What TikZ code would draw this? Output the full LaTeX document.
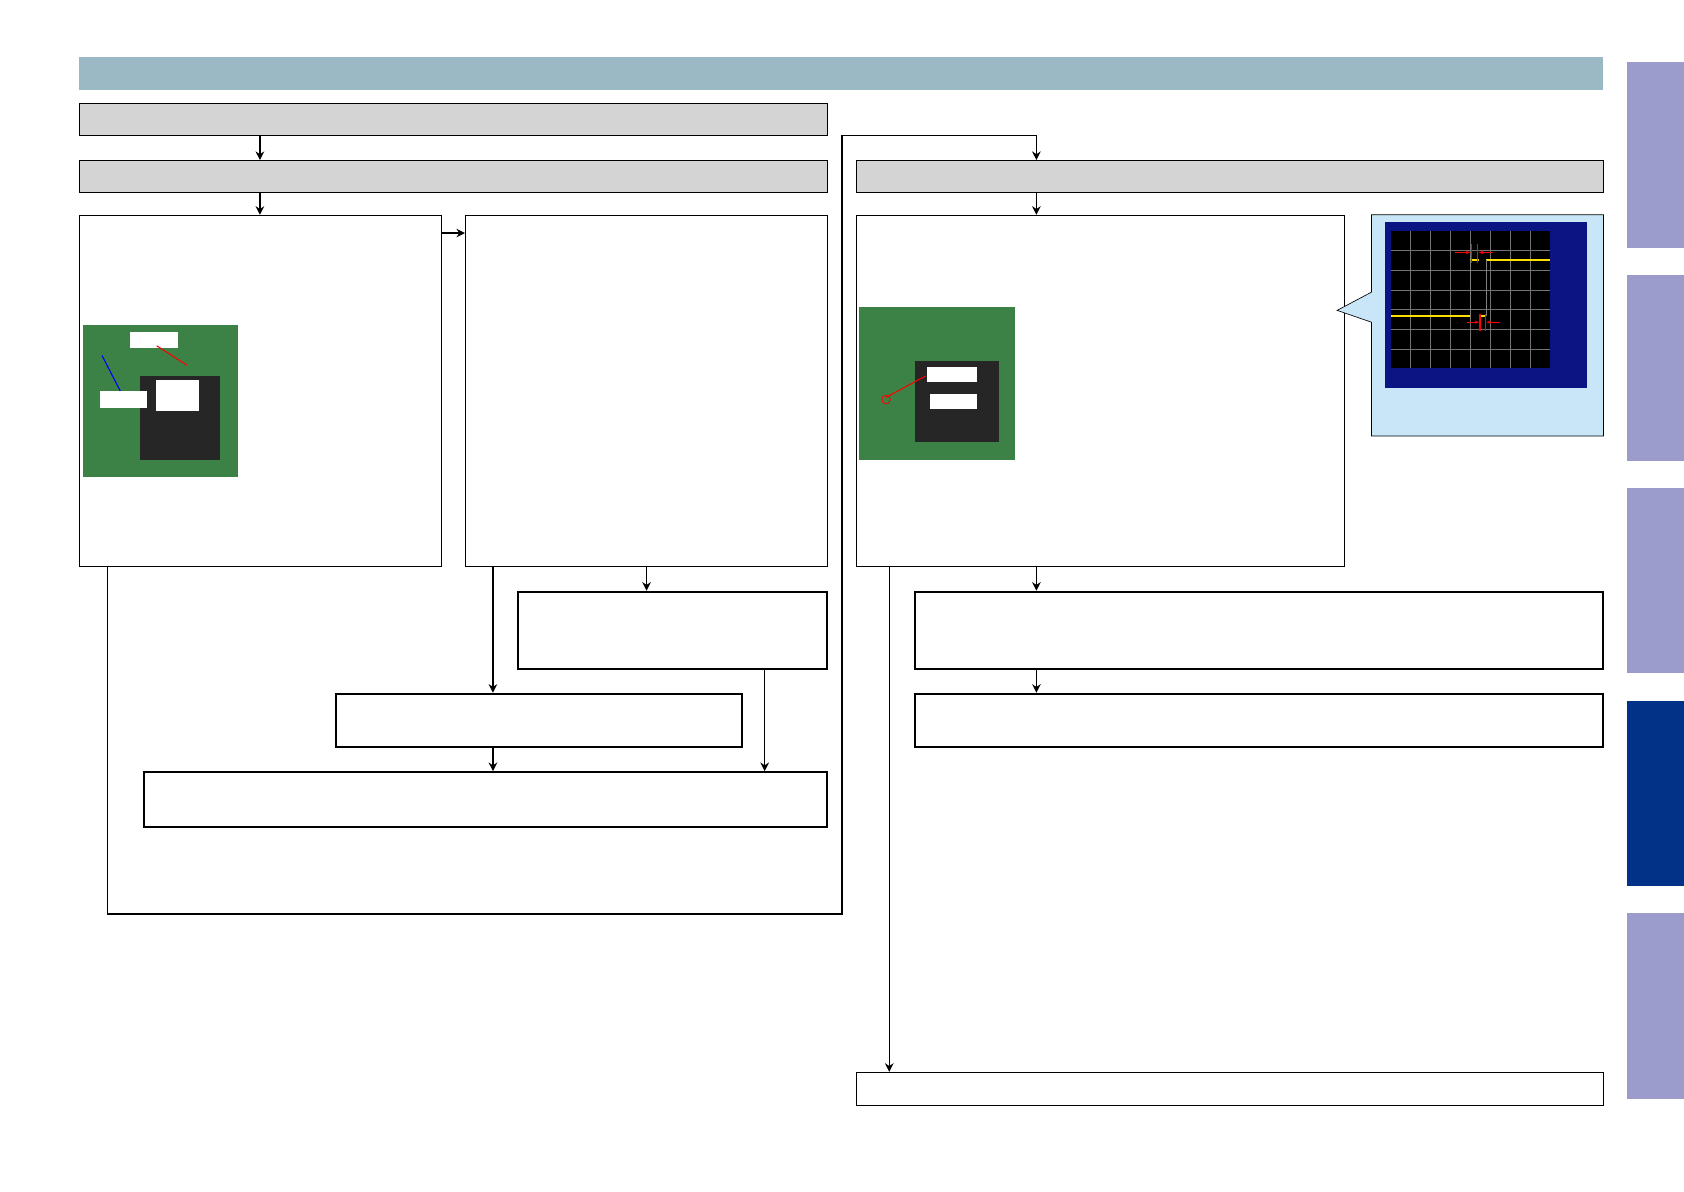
\documentclass[tikz,border=0pt]{standalone}
\usepackage{tikz}
\usetikzlibrary{positioning,calc,arrows.meta}
\definecolor{barblue}{RGB}{155,185,196}
\definecolor{tabpurple}{RGB}{155,155,204}
\definecolor{tabnavy}{RGB}{0,51,136}
\definecolor{pcbgreen}{RGB}{60,130,70}
\definecolor{scopebg}{RGB}{200,230,248}
\definecolor{scopenavy}{RGB}{10,20,130}
\tikzset{
  graybox/.style={draw=black,fill=black!17,line width=0.6pt},
  thinbox/.style={draw=black,fill=white,line width=0.6pt},
  thickbox/.style={draw=black,fill=white,line width=1.8pt},
  flow/.style={-{Stealth[length=8pt,width=8pt]},line width=1.3pt},
  photo/.style={fill=pcbgreen,draw=none},
  tab/.style={fill=tabpurple,draw=none}
}
\begin{document}
\begin{tikzpicture}[x=1pt,y=-1pt]
		\useasboundingbox (0,0) rectangle (1568,1109);
		\fill[barblue] (74,53) rectangle (1493,84);
		% side tabs
		\fill[tab] (1515,58) rectangle (1568,231);
		\fill[tab] (1515,256) rectangle (1568,429);
		\fill[tab] (1515,454) rectangle (1568,627);
		\fill[tabnavy] (1515,653) rectangle (1568,825);
		\fill[tab] (1515,850) rectangle (1568,1023);
		
		\node[graybox,minimum width=696,minimum height=30,anchor=north west] (a) at (74,96) {};
		\node[graybox,minimum width=696,minimum height=30,anchor=north west] (b) at (74,149) {};
		\node[graybox,minimum width=696,minimum height=30,anchor=north west] (c) at (797,149) {};
		\node[thinbox,minimum width=337,minimum height=327,anchor=north west] (d) at (74,200) {};
		\node[thinbox,minimum width=337,minimum height=327,anchor=north west] (e) at (433,200) {};
		\node[thinbox,minimum width=454,minimum height=327,anchor=north west] (f) at (797,200) {};
		\node[thickbox,minimum width=288,minimum height=72,anchor=north west] (g) at (481,550) {};
		\node[thickbox,minimum width=378,minimum height=50,anchor=north west] (h) at (312,645) {};
		\node[thickbox,minimum width=636,minimum height=51,anchor=north west] (i) at (133,718) {};
		\node[thickbox,minimum width=641,minimum height=72,anchor=north west] (j) at (851,550) {};
		\node[thickbox,minimum width=641,minimum height=50,anchor=north west] (k) at (851,645) {};
		\node[thinbox,minimum width=696,minimum height=31,anchor=north west] (l) at (797,998) {};
		
		% scope panel
		\draw[fill=scopebg,line width=0.6pt] (1277,200) -- (1493,200) -- (1493,406) -- (1277,406) -- (1277,300) -- (1245,289) -- (1277,272) -- cycle;
		\fill[scopenavy] (1290,207) rectangle (1478,361);
		\fill[black] (1295,215) rectangle (1443,343);
		\foreach \gx in {1,...,7} \draw[black!55] (1295+18.5*\gx,215) -- (1295+18.5*\gx,343);
		\foreach \gy in {1,...,6} \draw[black!55] (1295,215+18.3*\gy) -- (1443,215+18.3*\gy);
		\draw[yellow!80!orange,line width=1.5pt] (1295,294) -- (1369,294) (1369,242) -- (1377,242) (1384,242) -- (1443,242) (1377,294) -- (1384,294);
		\draw[black!50] (1369,242) -- (1369,294) (1384,242) -- (1384,294);
		\draw[red,line width=1pt] (1370,227) -- (1370,245) (1376,227) -- (1376,245) (1378,292) -- (1378,308) (1383,292) -- (1383,308);
		\draw[red,-{Stealth[length=4pt]}] (1355,235) -- (1369,235);
		\draw[red,-{Stealth[length=4pt]}] (1390,235) -- (1377,235);
		\draw[red,-{Stealth[length=4pt]}] (1366,300) -- (1377,300);
		\draw[red,-{Stealth[length=4pt]}] (1397,300) -- (1384,300);
		
		% photos
		\fill[photo] (77,303) rectangle (222,444);
		\fill[black!85] (130,350) rectangle (205,428);
		\fill[white] (121,309) rectangle (166,324);
		\fill[white] (145,354) rectangle (185,383);
		\fill[white] (93,364) rectangle (137,380);
		\draw[red,line width=1pt] (146,322) -- (174,340);
		\draw[blue,line width=1pt] (95,331) -- (112,364);
		\fill[photo] (800,286) rectangle (945,428);
		\fill[black!85] (852,336) rectangle (930,412);
		\fill[white] (863,342) rectangle (910,356);
		\fill[white] (866,367) rectangle (910,381);
		\draw[red,line width=1pt] (825,370) -- (862,350);
		\draw[red,line width=0.8pt] (825,372) circle (4);
		
		% connectors
		\draw[flow] (a.south -| 242,0) -- (b.north -| 242,0);
		\draw[flow] (b.south -| 242,0) -- (d.north -| 242,0);
		\draw[flow] (d.north east |- 0,217) -- (e.north west |- 0,217);
		\draw[flow] (e.south -| 602,0) -- (g.north -| 602,0);
		\draw[flow] (e.south -| 459,0) -- (h.north -| 459,0);
		\draw[flow] (h.south -| 459,0) -- (i.north -| 459,0);
		\draw[flow] (g.south -| 712,0) -- (i.north -| 712,0);
		\draw[flow] (d.south -| 100,0) -- (100,851) -- (784,851) -- (784,126) -- (965,126) -- (c.north -| 965,0);
		\draw[flow] (c.south -| 965,0) -- (f.north -| 965,0);
		\draw[flow] (f.south -| 965,0) -- (j.north -| 965,0);
		\draw[flow] (j.south -| 965,0) -- (k.north -| 965,0);
		\draw[flow] (f.south -| 828,0) -- (l.north -| 828,0);
	\end{tikzpicture}
\end{document}
